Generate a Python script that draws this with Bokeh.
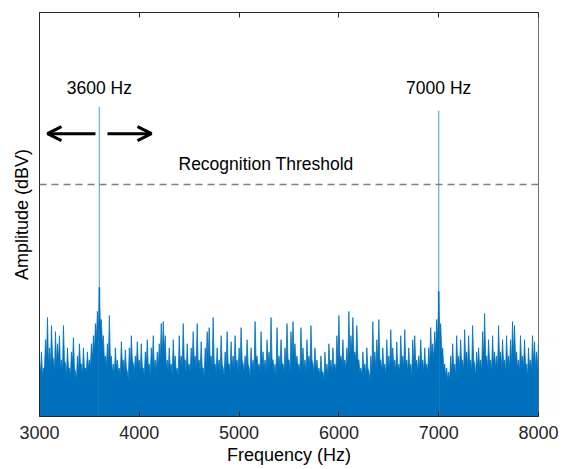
from bokeh.plotting import figure
from bokeh.models import Range1d, LinearAxis, Span, Arrow, OpenHead, ColumnDataSource, FixedTicker
from bokeh.core.properties import value
from bokeh.embed import file_html
from bokeh.resources import INLINE

# ---------------- data ----------------
freqs = list(range(3000, 8001, 20))          # Hz, bins holding local maxima
noise_level = [
    13, 16, 12, 19, 24.5,   17, 22.5, 14, 21, 18,   20, 14, 22.5, 13, 17,
    12, 16, 19.5, 11, 15,   18, 13, 17, 12, 16,     14, 18, 20, 23, 26,
    29, 24, 20, 15, 18,     25, 15, 13, 17, 14,     12, 18.5, 14, 16.5, 11,
    17, 20, 13, 15, 18.5,   14, 18, 12, 16, 19,     13, 17, 20, 14, 16,
    18, 23, 23.5, 20, 14,   17, 13, 19, 15, 12,     20, 15, 23, 14, 18,
    13, 17, 21, 15, 23,     14, 18.5, 12, 17, 21,   22, 15, 24.5, 13, 17,
    14, 20, 12, 16, 21,     13, 18.5, 15, 20, 14,   17, 22, 13, 15, 19,
    12, 17, 14, 23.5, 15,   13, 21, 16, 14, 19,     16, 24.5, 14, 13, 22,
    15, 19, 13, 17, 23,     14, 21, 23.5, 18, 15,   13, 22, 17, 14, 19,
    15, 22.5, 13, 17, 14,   12, 15, 11, 16, 13,     18, 14, 17, 13, 20,
    25, 15, 19, 14, 17,     26, 20, 24.5, 16, 22.5, 14, 12, 16, 13, 17,
    11, 15, 23.5, 16, 19,   24, 14, 17, 13, 19,     15, 21.5, 17, 14, 18.5,
    13, 20, 15, 21.5, 14,   17, 13, 19, 20, 14,     15, 19, 14, 17, 13,
    17, 22, 18, 21, 24,     28, 23, 17, 13, 12,     11, 15, 18, 13, 20,
    15, 19, 14, 21.5, 16,   20, 14, 22.5, 13, 16,   17, 14, 21, 25.5, 15,
    19, 14, 20, 16, 15,     22.5, 16, 19, 14, 20,   15, 19, 23.5, 22.5, 16,
    14, 20, 15, 19, 13,     17, 14, 20, 18.5, 16,
    18,
]
trough_freqs = list(range(3010, 7991, 20))   # Hz, bins holding local minima
trough_level = [
    11, 10, 12, 14, 13,  12, 15, 11, 13, 14,  12, 11, 14, 10, 12,  10, 13, 12, 9, 11,
    13, 10, 12, 11, 12,  12, 14, 16, 19, 22,  23, 18, 14, 12, 13,  14, 11, 10, 12, 11,
    10, 13, 11, 12, 9,   12, 14, 11, 12, 13,  11, 12, 10, 13, 12,  10, 13, 12, 11, 12,
    14, 15, 16, 12, 11,  12, 10, 13, 11, 10,  13, 12, 14, 11, 12,  11, 13, 14, 12, 13,
    11, 12, 10, 13, 14,  14, 12, 13, 11, 12,  11, 13, 10, 12, 13,  11, 12, 12, 13, 11,
    12, 14, 11, 12, 13,  10, 12, 11, 14, 12,  11, 13, 12, 11, 13,  12, 14, 11, 10, 13,
    12, 13, 11, 12, 14,  11, 14, 15, 13, 12,  11, 13, 12, 11, 13,  12, 14, 11, 12, 11,
    10, 11, 9, 11, 10,   12, 11, 12, 11, 13,  14, 13, 13, 12, 13,  15, 16, 15, 14, 14,
    11, 10, 12, 10, 12,  9, 11, 13, 12, 13,   14, 11, 12, 10, 12,  12, 13, 12, 11, 12,
    11, 13, 12, 13, 11,  12, 10, 13, 13, 11,  12, 13, 11, 12, 11,  13, 15, 14, 16, 19,
    22, 16, 12, 10, 9,   9, 11, 12, 10, 13,   12, 13, 11, 14, 12,  13, 11, 14, 10, 12,
    12, 11, 14, 15, 12,  13, 11, 13, 12, 12,  14, 12, 13, 11, 13,  12, 13, 15, 14, 12,
    11, 13, 12, 13, 10,  12, 11, 13, 12, 12,
]

peak_freqs = [3600, 7000]
peak_levels = [76.7, 75.7]
peak_skirt = [32, 31]
peak_labels = ["3600 Hz", "7000 Hz"]
peak_label_y = 81.2

threshold = 57.4
threshold_label = "Recognition Threshold"
threshold_label_x = 5270
threshold_label_y = 62.4

arrow_start_x = [3561, 3681]
arrow_end_x = [3080, 4122]
arrow_y = [70, 70]

x_ticks = [3000, 4000, 5000, 6000, 7000, 8000]

# merge maxima and minima into one spectrum trace
spec_f, spec_v = [], []
for i, f in enumerate(freqs):
    spec_f.append(f)
    spec_v.append(noise_level[i])
    if i < len(trough_freqs):
        spec_f.append(trough_freqs[i])
        spec_v.append(trough_level[i])

# ---------------- figure ----------------
FONT = "Liberation Sans"
BLUE = "#0072BD"

p = figure(
    frame_width=499, frame_height=404,
    x_range=Range1d(3000, 8000), y_range=Range1d(0, 100),
    output_backend="svg", toolbar_location=None,
    min_border_left=39, min_border_right=28, min_border_top=12, min_border_bottom=53,
    background_fill_color="white", border_fill_color="white",
)
p.xgrid.visible = False
p.ygrid.visible = False
p.outline_line_color = "#6e6e6e"
p.outline_line_width = 1

# noise floor
p.varea(x=spec_f, y1=[0] * len(spec_f), y2=spec_v, fill_color=BLUE)
p.line(x=spec_f, y=spec_v, line_color=BLUE, line_width=0.8)

# tonal peaks
p.segment(x0=peak_freqs, y0=[0, 0], x1=peak_freqs, y1=peak_levels,
          line_color="#6DB0E2", line_width=1.3)
p.segment(x0=peak_freqs, y0=[0, 0], x1=peak_freqs, y1=peak_skirt,
          line_color=BLUE, line_width=1.6)

# threshold
p.add_layout(Span(location=threshold, dimension="width", line_color="#7f7f7f",
                  line_width=1.5, line_dash="7 5"))

# labels
p.text(x=peak_freqs, y=[peak_label_y] * 2, text=peak_labels,
       text_font=value(FONT), text_font_size="17.5px", text_color="#000000",
       text_align="center", text_baseline="middle")
p.text(x=[threshold_label_x], y=[threshold_label_y], text=[threshold_label],
       text_font=value(FONT), text_font_size="17.5px", text_color="#000000",
       text_align="center", text_baseline="middle")

# arrows
asrc = ColumnDataSource(dict(x0=arrow_start_x, x1=arrow_end_x, y0=arrow_y, y1=arrow_y))
p.add_layout(Arrow(end=OpenHead(size=14, line_width=3, line_color="black"),
                   x_start="x0", y_start="y0", x_end="x1", y_end="y1",
                   source=asrc, line_width=3, line_color="black"))

# axes
xa = p.xaxis[0]
xa.ticker = FixedTicker(ticks=x_ticks)
xa.major_tick_in = 5
xa.major_tick_out = 0
xa.minor_tick_line_color = None
xa.axis_line_color = "#262626"
xa.major_tick_line_color = "#262626"
xa.major_label_text_font = FONT
xa.major_label_text_font_size = "18px"
xa.major_label_text_color = "#262626"
xa.major_label_standoff = 9
xa.axis_label = "Frequency (Hz)"
xa.axis_label_text_font = FONT
xa.axis_label_text_font_size = "18px"
xa.axis_label_text_font_style = "normal"
xa.axis_label_text_color = "#000000"
xa.axis_label_standoff = 3

ya = p.yaxis[0]
ya.ticker = FixedTicker(ticks=[])
ya.major_tick_line_color = None
ya.minor_tick_line_color = None
ya.axis_line_color = "#262626"
ya.axis_label = "Amplitude (dBV)"
ya.axis_label_text_font = FONT
ya.axis_label_text_font_size = "18px"
ya.axis_label_text_font_style = "normal"
ya.axis_label_text_color = "#000000"
ya.axis_label_standoff = 8

top_axis = LinearAxis(ticker=FixedTicker(ticks=x_ticks), major_tick_in=5, major_tick_out=0,
                      minor_tick_line_color=None, major_label_text_font_size="0px",
                      major_label_text_color=None, axis_line_color="#262626",
                      major_tick_line_color="#262626", major_label_standoff=0)
p.add_layout(top_axis, "above")

open("out.html", "w").write(file_html(p, INLINE))
